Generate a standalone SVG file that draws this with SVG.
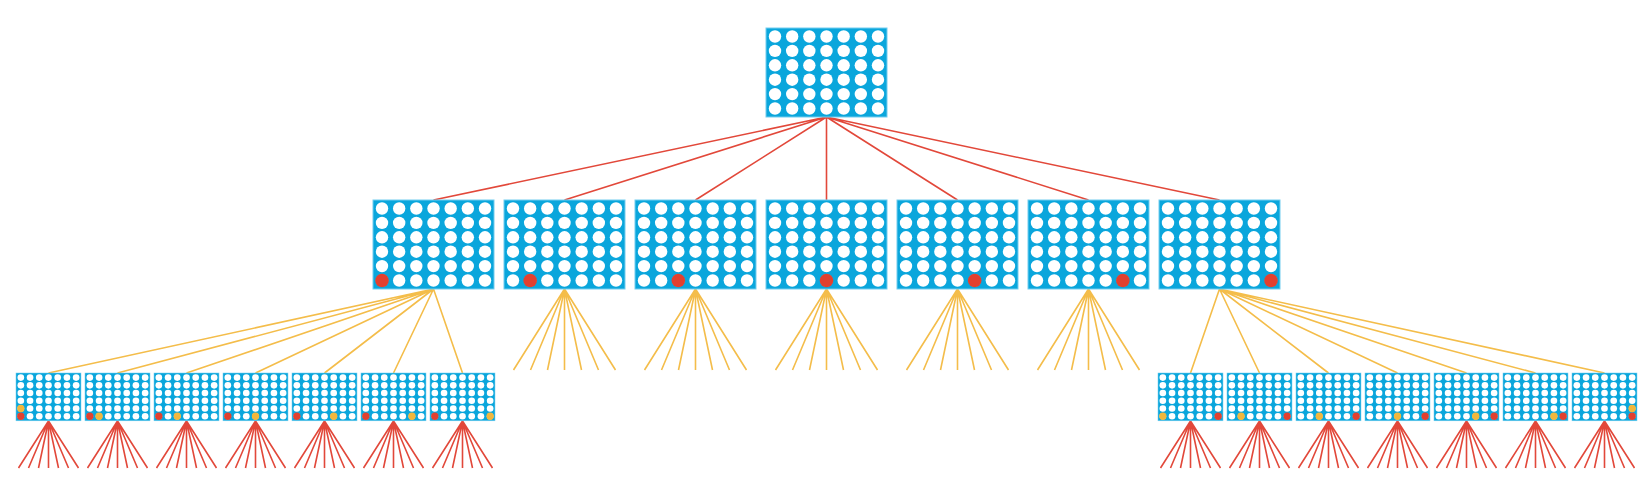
<svg xmlns="http://www.w3.org/2000/svg" xmlns:xlink="http://www.w3.org/1999/xlink" width="1648" height="490" viewBox="0 0 1648 490">
<style>
.r{stroke:#e2483a;stroke-width:1.6;fill:none}
.y{stroke:#f4bd4a;stroke-width:1.6;fill:none}
.rp{fill:#e2402f}
.yp{fill:#f2b73c}
</style>
<defs>
<symbol id="board" viewBox="0 0 121 89" width="121" height="89" overflow="visible">
<rect x="0" y="0" width="121" height="89" fill="#0aa6dc" stroke="#72cdef" stroke-width="1"/>
<g fill="#ffffff">
<g id="row">
<circle cx="9" cy="8.5" r="6.2"/><circle cx="26.17" cy="8.5" r="6.2"/><circle cx="43.33" cy="8.5" r="6.2"/><circle cx="60.5" cy="8.5" r="6.2"/><circle cx="77.67" cy="8.5" r="6.2"/><circle cx="94.83" cy="8.5" r="6.2"/><circle cx="112" cy="8.5" r="6.2"/>
</g>
<use href="#row" y="14.4"/><use href="#row" y="28.8"/><use href="#row" y="43.2"/><use href="#row" y="57.6"/><use href="#row" y="72"/>
</g>
</symbol>
</defs>
<rect width="1648" height="490" fill="#ffffff"/>
<g id="connectors">
<path class="r" d="M826.5 117L433.5 200M826.5 117L564.5 200M826.5 117L695.5 200M826.5 117L826.5 200M826.5 117L957.5 200M826.5 117L1088.5 200M826.5 117L1219.5 200"/>
<path class="y" d="M433.5 289L48.5 373M433.5 289L117.5 373M433.5 289L186.5 373M433.5 289L255.5 373M433.5 289L324.5 373M433.5 289L393.5 373M433.5 289L462.5 373"/>
<path class="y" d="M1219.5 289L1190.5 373M1219.5 289L1259.5 373M1219.5 289L1328.5 373M1219.5 289L1397.5 373M1219.5 289L1466.5 373M1219.5 289L1535.5 373M1219.5 289L1604.5 373"/>
<path class="y" d="M564.5 289L513.5 370M564.5 289L530.5 370M564.5 289L547.5 370M564.5 289L564.5 370M564.5 289L581.5 370M564.5 289L598.5 370M564.5 289L615.5 370"/>
<path class="y" d="M695.5 289L644.5 370M695.5 289L661.5 370M695.5 289L678.5 370M695.5 289L695.5 370M695.5 289L712.5 370M695.5 289L729.5 370M695.5 289L746.5 370"/>
<path class="y" d="M826.5 289L775.5 370M826.5 289L792.5 370M826.5 289L809.5 370M826.5 289L826.5 370M826.5 289L843.5 370M826.5 289L860.5 370M826.5 289L877.5 370"/>
<path class="y" d="M957.5 289L906.5 370M957.5 289L923.5 370M957.5 289L940.5 370M957.5 289L957.5 370M957.5 289L974.5 370M957.5 289L991.5 370M957.5 289L1008.5 370"/>
<path class="y" d="M1088.5 289L1037.5 370M1088.5 289L1054.5 370M1088.5 289L1071.5 370M1088.5 289L1088.5 370M1088.5 289L1105.5 370M1088.5 289L1122.5 370M1088.5 289L1139.5 370"/>
<path class="r" d="M48.5 421L18.5 468M48.5 421L28.5 468M48.5 421L38.5 468M48.5 421L48.5 468M48.5 421L58.5 468M48.5 421L68.5 468M48.5 421L78.5 468"/>
<path class="r" d="M117.5 421L87.5 468M117.5 421L97.5 468M117.5 421L107.5 468M117.5 421L117.5 468M117.5 421L127.5 468M117.5 421L137.5 468M117.5 421L147.5 468"/>
<path class="r" d="M186.5 421L156.5 468M186.5 421L166.5 468M186.5 421L176.5 468M186.5 421L186.5 468M186.5 421L196.5 468M186.5 421L206.5 468M186.5 421L216.5 468"/>
<path class="r" d="M255.5 421L225.5 468M255.5 421L235.5 468M255.5 421L245.5 468M255.5 421L255.5 468M255.5 421L265.5 468M255.5 421L275.5 468M255.5 421L285.5 468"/>
<path class="r" d="M324.5 421L294.5 468M324.5 421L304.5 468M324.5 421L314.5 468M324.5 421L324.5 468M324.5 421L334.5 468M324.5 421L344.5 468M324.5 421L354.5 468"/>
<path class="r" d="M393.5 421L363.5 468M393.5 421L373.5 468M393.5 421L383.5 468M393.5 421L393.5 468M393.5 421L403.5 468M393.5 421L413.5 468M393.5 421L423.5 468"/>
<path class="r" d="M462.5 421L432.5 468M462.5 421L442.5 468M462.5 421L452.5 468M462.5 421L462.5 468M462.5 421L472.5 468M462.5 421L482.5 468M462.5 421L492.5 468"/>
<path class="r" d="M1190.5 421L1160.5 468M1190.5 421L1170.5 468M1190.5 421L1180.5 468M1190.5 421L1190.5 468M1190.5 421L1200.5 468M1190.5 421L1210.5 468M1190.5 421L1220.5 468"/>
<path class="r" d="M1259.5 421L1229.5 468M1259.5 421L1239.5 468M1259.5 421L1249.5 468M1259.5 421L1259.5 468M1259.5 421L1269.5 468M1259.5 421L1279.5 468M1259.5 421L1289.5 468"/>
<path class="r" d="M1328.5 421L1298.5 468M1328.5 421L1308.5 468M1328.5 421L1318.5 468M1328.5 421L1328.5 468M1328.5 421L1338.5 468M1328.5 421L1348.5 468M1328.5 421L1358.5 468"/>
<path class="r" d="M1397.5 421L1367.5 468M1397.5 421L1377.5 468M1397.5 421L1387.5 468M1397.5 421L1397.5 468M1397.5 421L1407.5 468M1397.5 421L1417.5 468M1397.5 421L1427.5 468"/>
<path class="r" d="M1466.5 421L1436.5 468M1466.5 421L1446.5 468M1466.5 421L1456.5 468M1466.5 421L1466.5 468M1466.5 421L1476.5 468M1466.5 421L1486.5 468M1466.5 421L1496.5 468"/>
<path class="r" d="M1535.5 421L1505.5 468M1535.5 421L1515.5 468M1535.5 421L1525.5 468M1535.5 421L1535.5 468M1535.5 421L1545.5 468M1535.5 421L1555.5 468M1535.5 421L1565.5 468"/>
<path class="r" d="M1604.5 421L1574.5 468M1604.5 421L1584.5 468M1604.5 421L1594.5 468M1604.5 421L1604.5 468M1604.5 421L1614.5 468M1604.5 421L1624.5 468M1604.5 421L1634.5 468"/>
</g>
<g id="root" transform="translate(766,28)"><use href="#board"/></g>
<g id="m0" transform="translate(373,200)"><use href="#board"/><circle class="rp" cx="9" cy="80.5" r="6.8"/></g>
<g id="m1" transform="translate(504,200)"><use href="#board"/><circle class="rp" cx="26.17" cy="80.5" r="6.8"/></g>
<g id="m2" transform="translate(635,200)"><use href="#board"/><circle class="rp" cx="43.33" cy="80.5" r="6.8"/></g>
<g id="m3" transform="translate(766,200)"><use href="#board"/><circle class="rp" cx="60.5" cy="80.5" r="6.8"/></g>
<g id="m4" transform="translate(897,200)"><use href="#board"/><circle class="rp" cx="77.67" cy="80.5" r="6.8"/></g>
<g id="m5" transform="translate(1028,200)"><use href="#board"/><circle class="rp" cx="94.83" cy="80.5" r="6.8"/></g>
<g id="m6" transform="translate(1159,200)"><use href="#board"/><circle class="rp" cx="112" cy="80.5" r="6.8"/></g>
<g id="l0" transform="translate(16,373) scale(0.537)"><use href="#board"/><circle class="rp" cx="9" cy="80.5" r="6.8"/><circle class="yp" cx="9" cy="66.1" r="6.8"/></g>
<g id="l1" transform="translate(85,373) scale(0.537)"><use href="#board"/><circle class="rp" cx="9" cy="80.5" r="6.8"/><circle class="yp" cx="26.17" cy="80.5" r="6.8"/></g>
<g id="l2" transform="translate(154,373) scale(0.537)"><use href="#board"/><circle class="rp" cx="9" cy="80.5" r="6.8"/><circle class="yp" cx="43.33" cy="80.5" r="6.8"/></g>
<g id="l3" transform="translate(223,373) scale(0.537)"><use href="#board"/><circle class="rp" cx="9" cy="80.5" r="6.8"/><circle class="yp" cx="60.5" cy="80.5" r="6.8"/></g>
<g id="l4" transform="translate(292,373) scale(0.537)"><use href="#board"/><circle class="rp" cx="9" cy="80.5" r="6.8"/><circle class="yp" cx="77.67" cy="80.5" r="6.8"/></g>
<g id="l5" transform="translate(361,373) scale(0.537)"><use href="#board"/><circle class="rp" cx="9" cy="80.5" r="6.8"/><circle class="yp" cx="94.83" cy="80.5" r="6.8"/></g>
<g id="l6" transform="translate(430,373) scale(0.537)"><use href="#board"/><circle class="rp" cx="9" cy="80.5" r="6.8"/><circle class="yp" cx="112" cy="80.5" r="6.8"/></g>
<g id="r0" transform="translate(1158,373) scale(0.537)"><use href="#board"/><circle class="rp" cx="112" cy="80.5" r="6.8"/><circle class="yp" cx="9" cy="80.5" r="6.8"/></g>
<g id="r1" transform="translate(1227,373) scale(0.537)"><use href="#board"/><circle class="rp" cx="112" cy="80.5" r="6.8"/><circle class="yp" cx="26.17" cy="80.5" r="6.8"/></g>
<g id="r2" transform="translate(1296,373) scale(0.537)"><use href="#board"/><circle class="rp" cx="112" cy="80.5" r="6.8"/><circle class="yp" cx="43.33" cy="80.5" r="6.8"/></g>
<g id="r3" transform="translate(1365,373) scale(0.537)"><use href="#board"/><circle class="rp" cx="112" cy="80.5" r="6.8"/><circle class="yp" cx="60.5" cy="80.5" r="6.8"/></g>
<g id="r4" transform="translate(1434,373) scale(0.537)"><use href="#board"/><circle class="rp" cx="112" cy="80.5" r="6.8"/><circle class="yp" cx="77.67" cy="80.5" r="6.8"/></g>
<g id="r5" transform="translate(1503,373) scale(0.537)"><use href="#board"/><circle class="rp" cx="112" cy="80.5" r="6.8"/><circle class="yp" cx="94.83" cy="80.5" r="6.8"/></g>
<g id="r6" transform="translate(1572,373) scale(0.537)"><use href="#board"/><circle class="rp" cx="112" cy="80.5" r="6.8"/><circle class="yp" cx="112" cy="66.1" r="6.8"/></g>
</svg>
